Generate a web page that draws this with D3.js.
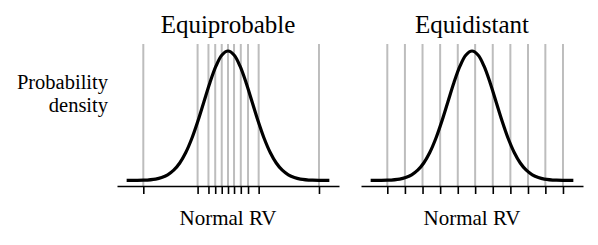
<!DOCTYPE html>
<html>
<head>
<meta charset="utf-8">
<script src="https://cdn.jsdelivr.net/npm/d3@7"></script>
</head>
<body style="margin:0">
<svg id="chart" width="598" height="245"></svg>
<script>
// Panel titles and axis labels
const titles = ["Equiprobable", "Equidistant"];
const xLabel = "Normal RV";
const yLabel = ["Probability", "density"];

// Grid / tick positions (in standard deviations)
const equiprobableCuts = [-3.51, -1.26, -0.81, -0.53, -0.26, 0, 0.25, 0.53, 0.83, 1.27, 3.77];
const equidistantCuts = [-3.51, -2.78, -2.05, -1.32, -0.59, 0.13, 0.86, 1.59, 2.32, 3.04, 3.77];

// Density curve samples
const curveZ = [-4.2, -3.5, -3, -2.75, -2.5, -2.25, -2, -1.75, -1.5, -1.25, -1, -0.75, -0.5, -0.25,
                0, 0.25, 0.5, 0.75, 1, 1.25, 1.5, 1.75, 2, 2.25, 2.5, 2.75, 3, 3.5, 4.2];
const curveDensity = [0.0001, 0.0009, 0.0044, 0.0091, 0.0175, 0.0317, 0.0540, 0.0863, 0.1295, 0.1826, 0.2420, 0.3011, 0.3521, 0.3867,
                      0.3989, 0.3867, 0.3521, 0.3011, 0.2420, 0.1826, 0.1295, 0.0863, 0.0540, 0.0317, 0.0175, 0.0091, 0.0044, 0.0009, 0.0001];

const axisY = 186, curveBase = 180.5, peakY = 51, gridTop = 44;

const svg = d3.select("#chart");

const curveData = curveZ.map((z, i) => ({ z, d: curveDensity[i] }));

const y = d3.scaleLinear()
    .domain([0, d3.max(curveDensity)])
    .range([curveBase, peakY]);

const panels = [
    { title: titles[0], cuts: equiprobableCuts, x0: 117, x1: 339 },
    { title: titles[1], cuts: equidistantCuts, x0: 361, x1: 583 }
];

function label(sel, txt, xPos, yPos, size, anchor) {
    return sel.append("text")
        .attr("x", xPos)
        .attr("y", yPos)
        .attr("font-family", "Liberation Serif")
        .attr("font-size", size)
        .attr("text-anchor", anchor)
        .text(txt);
}

panels.forEach(p => {
    const g = svg.append("g");
    const x = d3.scaleLinear().domain([-4.6, 4.6]).range([p.x0, p.x1]);
    const cx = (p.x0 + p.x1) / 2;

    // grid lines
    g.selectAll(".grid")
        .data(p.cuts)
        .enter()
        .append("line")
        .attr("x1", d => x(d))
        .attr("x2", d => x(d))
        .attr("y1", gridTop)
        .attr("y2", axisY)
        .attr("stroke", "#bdbdbd")
        .attr("stroke-width", 2);

    // axis
    const axis = g.append("g")
        .attr("transform", `translate(0,${axisY})`)
        .call(d3.axisBottom(x).tickValues(p.cuts).tickSizeOuter(0).tickSizeInner(8).tickFormat(""));
    axis.select(".domain").attr("stroke", "#000").attr("stroke-width", 1.6);
    axis.selectAll(".tick line").attr("stroke", "#000").attr("stroke-width", 1.6);

    // density curve
    const line = d3.line()
        .x(d => x(d.z))
        .y(d => y(d.d))
        .curve(d3.curveCatmullRom);

    g.append("path")
        .datum(curveData)
        .attr("d", line)
        .attr("fill", "none")
        .attr("stroke", "#000")
        .attr("stroke-width", 3.2);

    label(g, p.title, cx, 33, 25, "middle");
    label(g, xLabel, cx, 225, 21, "middle");
});

// y label
yLabel.forEach((d, i) => label(svg, d, 108, 89 + i * 23, 20.5, "end"));
</script>
</body>
</html>
